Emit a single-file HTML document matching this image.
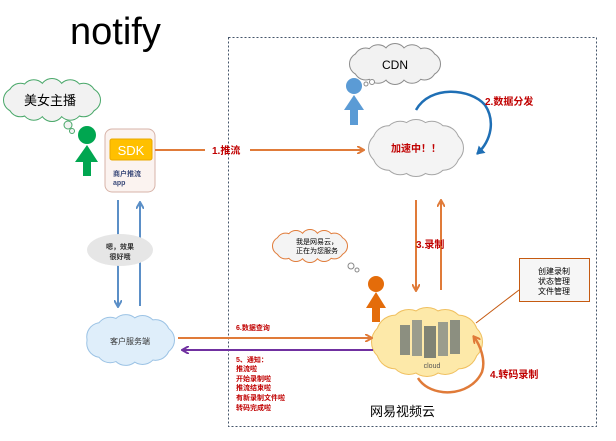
<!DOCTYPE html>
<html><head><meta charset="utf-8"><style>
html,body{margin:0;padding:0;background:#fff;width:616px;height:441px;overflow:hidden}
svg{display:block}
text{font-family:"Liberation Sans","Noto Sans CJK SC",sans-serif}
.r{fill:#c00000;font-weight:bold;font-size:10px}
</style></head><body>
<svg id="s" width="616" height="441" viewBox="0 0 616 441" xmlns="http://www.w3.org/2000/svg">
<defs>
<marker id="ao" markerWidth="8" markerHeight="8" refX="6" refY="4" orient="auto" markerUnits="userSpaceOnUse"><path d="M0,0 L7,4 L0,8" fill="none" stroke="#e07b39" stroke-width="2"/></marker>
<marker id="ab" markerWidth="8" markerHeight="8" refX="6" refY="4" orient="auto" markerUnits="userSpaceOnUse"><path d="M0,0 L7,4 L0,8" fill="none" stroke="#5b8fc7" stroke-width="2"/></marker>
<marker id="ap" markerWidth="8" markerHeight="8" refX="6" refY="4" orient="auto" markerUnits="userSpaceOnUse"><path d="M0,0 L7,4 L0,8" fill="none" stroke="#7030a0" stroke-width="2"/></marker>
<marker id="abl" markerWidth="10" markerHeight="10" refX="7" refY="5" orient="auto" markerUnits="userSpaceOnUse"><path d="M0,0 L8,5 L0,10 Z" fill="#1f6fb5"/></marker>
</defs>
<text x="70" y="44" font-size="38">notify</text>
<rect x="228.5" y="37.5" width="368" height="389" fill="none" stroke="#44546a" stroke-dasharray="2,2"/>
<g id="clouds"></g>

<!-- 美女主播 -->
<circle cx="68" cy="125" r="4" fill="#f2f2f2" stroke="#4aa86a"/>
<circle cx="72" cy="131" r="2.5" fill="#f2f2f2" stroke="#4aa86a"/>
<text x="24" y="105" font-size="13">美女主播</text>
<circle cx="87" cy="135" r="9" fill="#00a650"/>
<path d="M87,145 L98,162 L75,162 Z" fill="#00a650"/>
<rect x="83" y="160" width="8" height="16" fill="#00a650"/>

<rect x="105" y="129" width="50" height="63" rx="7" fill="#fbf3f0" stroke="#d7b3a8"/>
<rect x="110" y="139" width="42" height="21" rx="2" fill="#ffc000" stroke="#e8a800"/>
<text x="131" y="155" font-size="13" fill="#fff" text-anchor="middle">SDK</text>
<text x="113" y="176" font-size="7" fill="#3b4a7a" font-weight="bold">商户推流</text>
<text x="113" y="185" font-size="7" fill="#3b4a7a" font-weight="bold">app</text>

<line x1="155" y1="150" x2="205" y2="150" stroke="#e07b39" stroke-width="2"/>
<line x1="250" y1="150" x2="363" y2="150" stroke="#e07b39" stroke-width="2" marker-end="url(#ao)"/>
<text x="212" y="154" class="r">1.推流</text>

<line x1="118" y1="200" x2="118" y2="306" stroke="#5b8fc7" stroke-width="2" marker-end="url(#ab)"/>
<line x1="140" y1="306" x2="140" y2="203" stroke="#5b8fc7" stroke-width="2" marker-end="url(#ab)"/>
<ellipse cx="120" cy="250" rx="33" ry="16" fill="#e6e6e6"/>
<text x="120" y="249" font-size="7" font-weight="bold" text-anchor="middle" fill="#333">嗯，效果</text>
<text x="120" y="259" font-size="7" font-weight="bold" text-anchor="middle" fill="#333">很好哦</text>

<text x="130" y="344" font-size="8" text-anchor="middle" fill="#333">客户服务端</text>

<circle cx="372" cy="82" r="2.5" fill="#fff" stroke="#8c8c8c"/>
<circle cx="366" cy="84" r="2" fill="#fff" stroke="#8c8c8c"/>
<text x="395" y="69" font-size="12" text-anchor="middle">CDN</text>
<circle cx="354" cy="86" r="8" fill="#5b9bd5"/>
<path d="M354,95 L364,110 L344,110 Z" fill="#5b9bd5"/>
<rect x="350" y="108" width="8" height="17" fill="#5b9bd5"/>

<text x="416" y="152" font-size="10" font-weight="bold" text-anchor="middle" fill="#c00000">加速中！！</text>
<path d="M416,110 C430,85 470,88 485,105 C495,120 492,140 477,154" fill="none" stroke="#1f6fb5" stroke-width="2.5" marker-end="url(#abl)"/>
<text x="485" y="105" class="r">2.数据分发</text>

<line x1="416" y1="200" x2="416" y2="290" stroke="#e07b39" stroke-width="2" marker-end="url(#ao)"/>
<line x1="441" y1="290" x2="441" y2="201" stroke="#e07b39" stroke-width="2" marker-end="url(#ao)"/>
<text x="416" y="248" class="r">3.录制</text>

<circle cx="351" cy="266" r="3" fill="#fff" stroke="#888"/>
<circle cx="357" cy="270" r="2" fill="#fff" stroke="#888"/>
<text x="296" y="244" font-size="7">我是网易云，</text>
<text x="296" y="253" font-size="7">正在为您服务</text>
<circle cx="376" cy="284" r="8" fill="#e46c0a"/>
<path d="M376,292 L386,308 L366,308 Z" fill="#e46c0a"/>
<rect x="372" y="306" width="8" height="16" fill="#e46c0a"/>

<rect x="519.5" y="258.5" width="70" height="43" fill="#f6f6f6" stroke="#c55a11"/>
<text x="554" y="274" font-size="8" text-anchor="middle">创建录制</text>
<text x="554" y="284" font-size="8" text-anchor="middle">状态管理</text>
<text x="554" y="294" font-size="8" text-anchor="middle">文件管理</text>
<line x1="519" y1="290" x2="476" y2="323" stroke="#c55a11"/>

<rect x="400" y="325" width="10" height="30" fill="#8c8f80"/>
<rect x="412" y="320" width="10" height="36" fill="#9a9d8d"/>
<rect x="424" y="326" width="12" height="32" fill="#7f8374"/>
<rect x="438" y="322" width="10" height="34" fill="#9a9d8d"/>
<rect x="450" y="320" width="10" height="34" fill="#8c8f80"/>
<text x="432" y="368" font-size="7" fill="#555" text-anchor="middle">cloud</text>
<path d="M418,378 C430,398 470,398 482,372 C486,360 480,345 474,337" fill="none" stroke="#e07b39" stroke-width="2.5" marker-end="url(#ao)"/>
<text x="490" y="378" class="r">4.转码录制</text>

<line x1="178" y1="338" x2="371" y2="338" stroke="#e07b39" stroke-width="2" marker-end="url(#ao)"/>
<text x="236" y="330" font-size="7" font-weight="bold" fill="#c00000">6.数据查询</text>
<line x1="373" y1="350" x2="183" y2="350" stroke="#7030a0" stroke-width="2" marker-end="url(#ap)"/>
<g font-size="7" font-weight="bold" fill="#c00000">
<text x="236" y="362">5、通知：</text>
<text x="236" y="371">推流啦</text>
<text x="236" y="381">开始录制啦</text>
<text x="236" y="390">推流结束啦</text>
<text x="236" y="400">有新录制文件啦</text>
<text x="236" y="410">转码完成啦</text>
</g>
<text x="370" y="416" font-size="13">网易视频云</text>
</svg>
<script>
(function(){
var g=document.getElementById('clouds'),NS='http://www.w3.org/2000/svg';
function cloud(cx,cy,rx,ry,fill,stroke,n){
  var rb=ry*0.55, pts=[];
  for(var i=0;i<n;i++){var t=2*Math.PI*i/n;pts.push([cx+(rx-rb)*Math.cos(t),cy+(ry-rb)*Math.sin(t)]);}
  pts.forEach(function(p){var c=document.createElementNS(NS,'circle');c.setAttribute('cx',p[0]);c.setAttribute('cy',p[1]);c.setAttribute('r',rb);c.setAttribute('fill',fill);c.setAttribute('stroke',stroke);c.setAttribute('stroke-width',2);g.appendChild(c);});
  pts.forEach(function(p){var c=document.createElementNS(NS,'circle');c.setAttribute('cx',p[0]);c.setAttribute('cy',p[1]);c.setAttribute('r',rb);c.setAttribute('fill',fill);g.appendChild(c);});
  var e=document.createElementNS(NS,'ellipse');e.setAttribute('cx',cx);e.setAttribute('cy',cy);e.setAttribute('rx',rx-rb*0.9);e.setAttribute('ry',ry-rb*0.6);e.setAttribute('fill',fill);g.appendChild(e);
}
cloud(52,100,48,21,'#f2f2f2','#4aa86a',12);
cloud(130,340,44,25,'#dfeefa','#9cc3e5',11);
cloud(395,64,45,20,'#f2f2f2','#8c8c8c',12);
cloud(416,148,47,28,'#f4f4f4','#a6a6a6',12);
cloud(310,246,37,16,'#f4f4f4','#e07b39',12);
cloud(427,342,55,34,'#fde9a9','#f0c060',12);
})();
</script>
</body></html>
